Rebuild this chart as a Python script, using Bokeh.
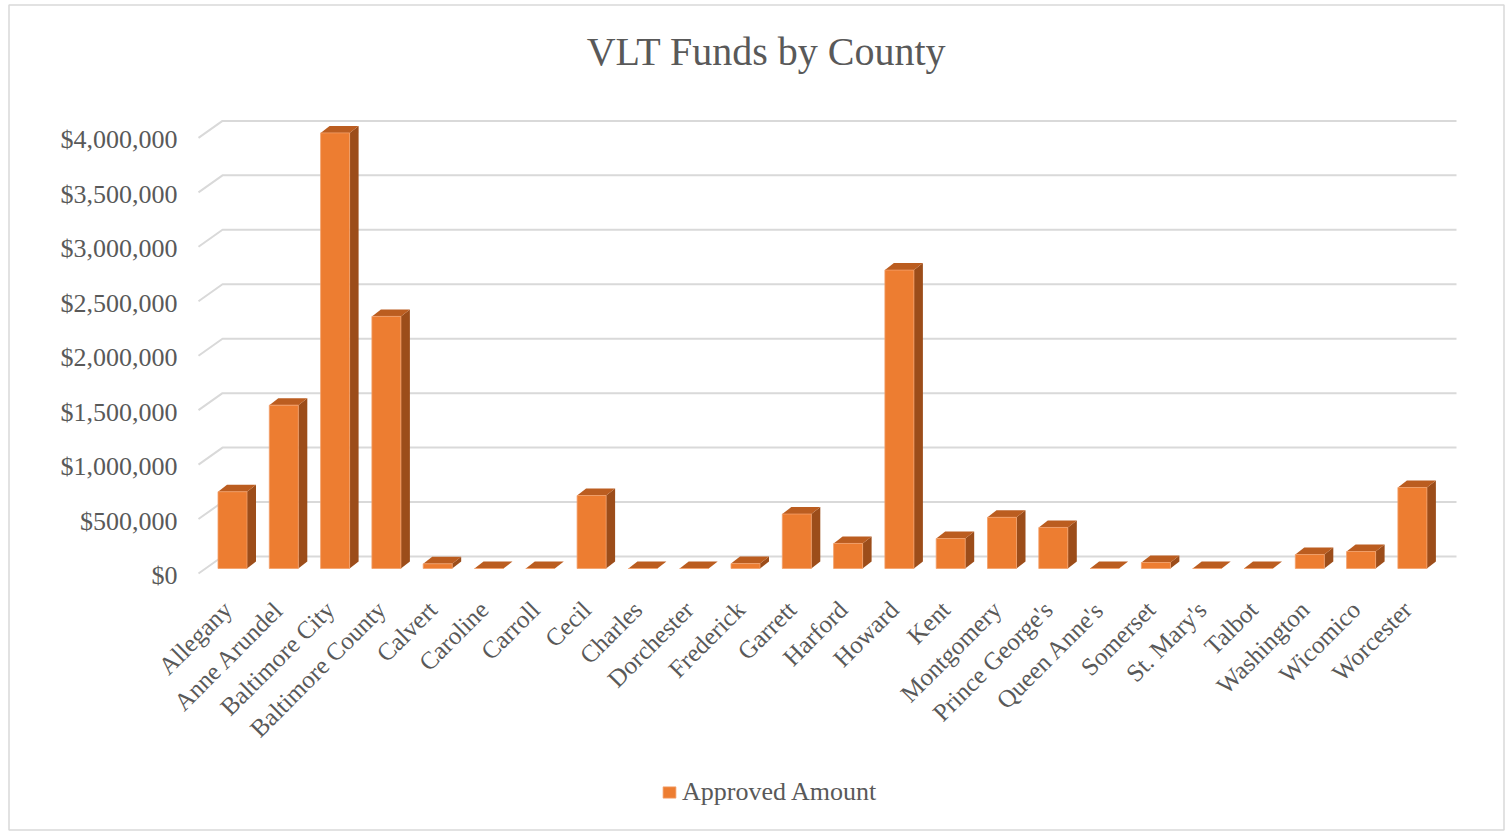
import math
from bokeh.plotting import figure
from bokeh.models import Range1d, Legend, LegendItem
from bokeh.core.properties import value
from bokeh.embed import file_html
from bokeh.resources import INLINE

# ---------------- data ----------------
counties = ["Allegany", "Anne Arundel", "Baltimore City", "Baltimore County", "Calvert",
            "Caroline", "Carroll", "Cecil", "Charles", "Dorchester", "Frederick", "Garrett",
            "Harford", "Howard", "Kent", "Montgomery", "Prince George's", "Queen Anne's",
            "Somerset", "St. Mary's", "Talbot", "Washington", "Wicomico", "Worcester"]
amounts = [705000, 1500000, 4000000, 2315000, 43000,
           0, 0, 670000, 0, 0, 45000, 500000,
           230000, 2740000, 275000, 470000, 377000, 0,
           55000, 0, 0, 128000, 156000, 744000]
y_ticks = [0, 500000, 1000000, 1500000, 2000000, 2500000, 3000000, 3500000, 4000000]
y_tick_labels = ["$0", "$500,000", "$1,000,000", "$1,500,000", "$2,000,000",
                 "$2,500,000", "$3,000,000", "$3,500,000", "$4,000,000"]
title_text = "VLT Funds by County"
series_name = "Approved Amount"

# ---------------- layout (picture pixels) ----------------
W, H = 1508, 832
X0, XSTEP = 232, 51.3                      # first category centre / spacing (px)
Y0, PXPD = 568, 108.9e-6                   # px of $0 (bar base) / px per dollar


def xd(px):
    return (px - X0) / XSTEP


def yd(py):
    return (Y0 - py) / PXPD


def dxu(px):
    return px / XSTEP


def dyu(px):
    return px / PXPD


FONT = "Liberation Serif"
GREY = "#595959"
FRONT = "#ed7d31"
SIDE = "#9c4d1a"
TOP = "#bb5d20"

p = figure(width=W, height=H, output_backend="svg", toolbar_location=None,
           x_range=Range1d(xd(0), xd(W)), y_range=Range1d(yd(H), yd(0)),
           x_axis_type=None, y_axis_type=None, min_border=0)
p.outline_line_color = None
p.xgrid.visible = False
p.ygrid.visible = False
p.background_fill_color = "white"
p.border_fill_color = "white"

# ---------------- chart border ----------------
p.quad(left=[xd(8.5)], right=[xd(1503.5)], top=[yd(4.5)], bottom=[yd(829.5)],
       fill_color=None, line_color="#d9d9d9", line_width=1.5)

# ---------------- 3D-style gridlines (front slant + back wall) ----------------
gx, gy = [], []
for v in y_ticks:
    gx.append([xd(198), xd(222), xd(1456)])
    gy.append([v - dyu(5), v + dyu(12), v + dyu(12)])
p.multi_line(gx, gy, line_color="#d9d9d9", line_width=2)

# ---------------- bars ----------------
bw = dxu(29)
ddx, ddy = dxu(9), dyu(7)
xs_idx = list(range(len(counties)))
side_xs, side_ys, top_xs, top_ys = [], [], [], []
for i, v in zip(xs_idx, amounts):
    xl, xr = i - bw / 2, i + bw / 2
    side_xs.append([xr, xr + ddx, xr + ddx, xr])
    side_ys.append([0, ddy, v + ddy, v])
    top_xs.append([xl, xl + ddx, xr + ddx, xr])
    top_ys.append([v, v + ddy, v + ddy, v])
p.patches(side_xs, side_ys, fill_color=SIDE, line_color=None)
p.patches(top_xs, top_ys, fill_color=TOP, line_color=None)
front = p.vbar(x=xs_idx, top=amounts, bottom=0, width=bw, fill_color=FRONT,
               line_color="#f3a06a", line_width=0.8)

# ---------------- value axis labels ----------------
p.text(x=[xd(177)] * len(y_ticks), y=[v - dyu(7) for v in y_ticks], text=y_tick_labels,
       text_font=value(FONT), text_font_size="26px", text_color=GREY,
       text_align="right", text_baseline="middle")

# ---------------- category axis labels ----------------
p.text(x=[i - dxu(5) for i in xs_idx], y=[yd(605)] * len(xs_idx), text=counties,
       angle=math.pi / 4, text_font=value(FONT), text_font_size="25px", text_color=GREY,
       text_align="right", text_baseline="middle")

# ---------------- title ----------------
p.text(x=[xd(766)], y=[yd(51)], text=[title_text], text_font=value(FONT),
       text_font_size="40px", text_color=GREY, text_align="center", text_baseline="middle")

# ---------------- legend ----------------
legend = Legend(items=[LegendItem(label=series_name, renderers=[front])],
                location=(661, 25), orientation="horizontal",
                border_line_color=None, background_fill_alpha=0,
                glyph_width=16, glyph_height=14, label_standoff=5,
                label_text_font=FONT, label_text_font_size="26px",
                label_text_color=GREY, padding=0, margin=0, spacing=0)
p.add_layout(legend, "center")

open("out.html", "w").write(file_html(p, INLINE))
